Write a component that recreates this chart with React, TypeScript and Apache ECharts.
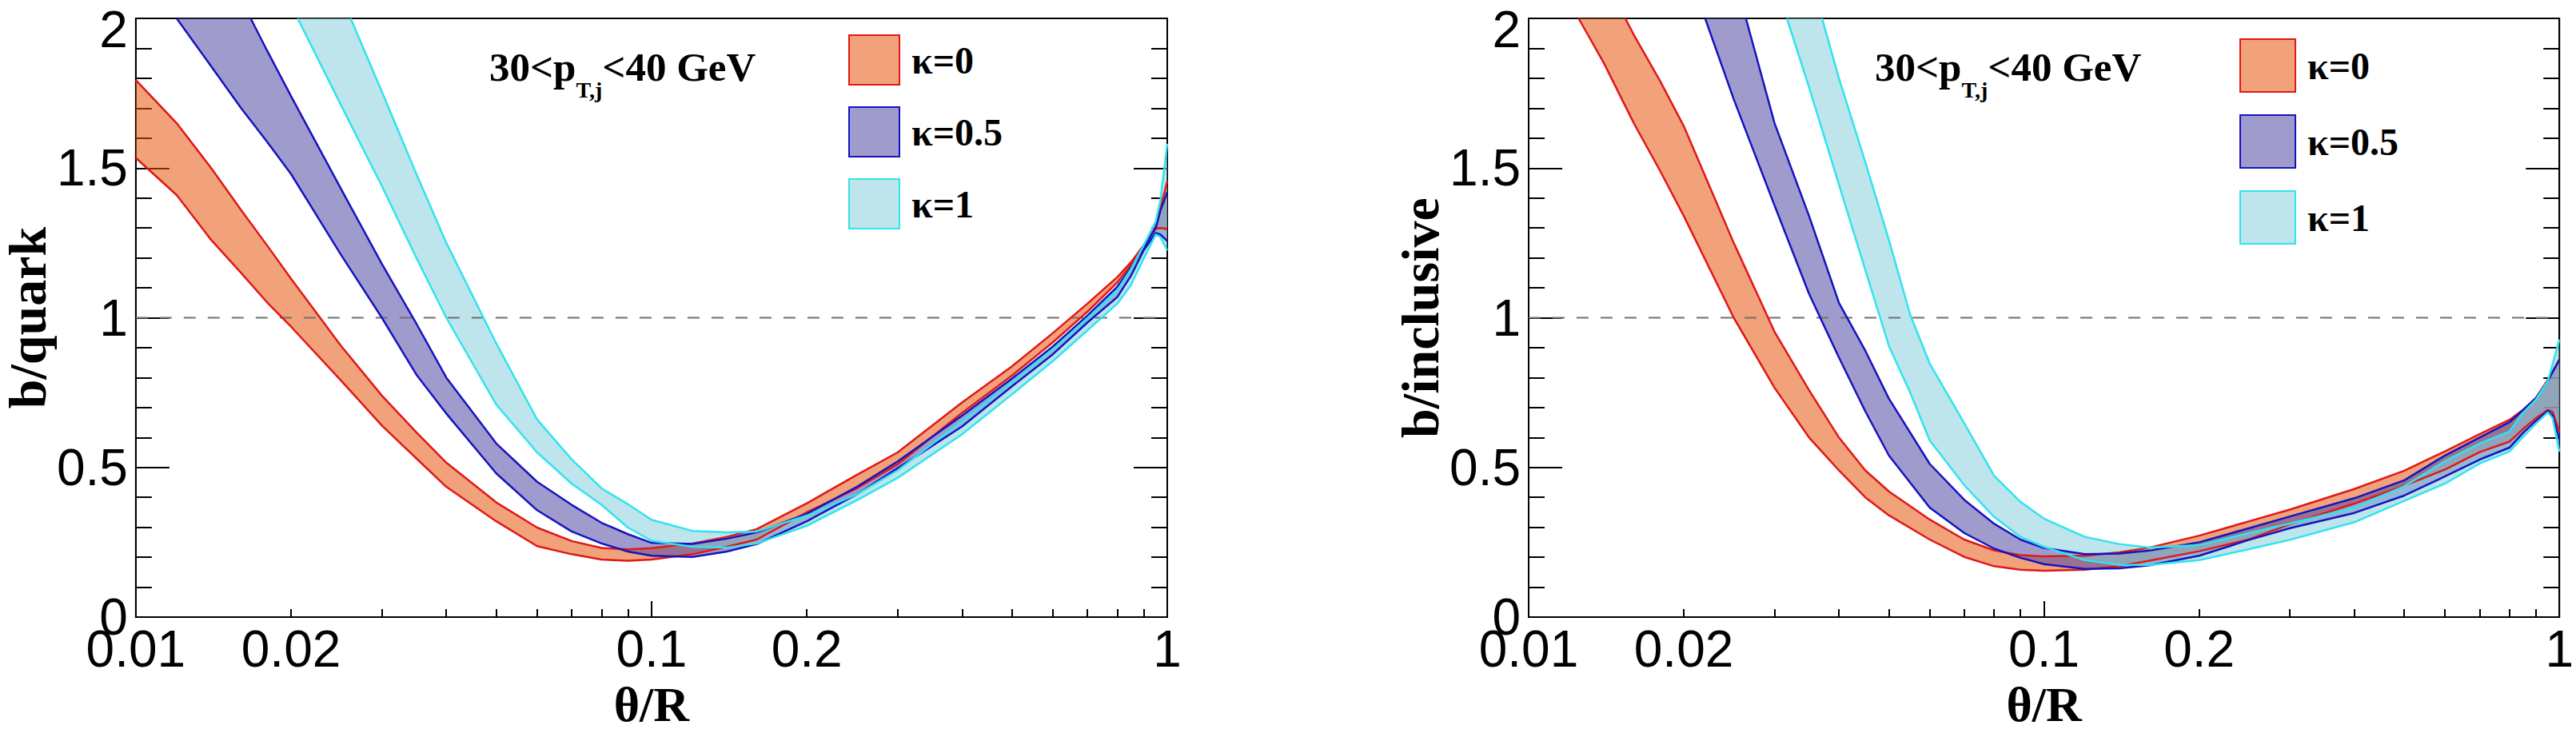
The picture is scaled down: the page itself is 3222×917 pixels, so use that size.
import React, { useEffect, useRef } from "react";
import * as echarts from "echarts";

// [theta/R, ratio], lower and upper edge of each band

// left panel: b/quark
const quarkK0Lo = [
  [0.01, 1.534], [0.012, 1.41], [0.014, 1.26], [0.016, 1.15], [0.018, 1.05], [0.02, 0.97],
  [0.025, 0.79], [0.03, 0.64], [0.035, 0.53], [0.04, 0.435], [0.05, 0.32], [0.06, 0.237],
  [0.07, 0.21], [0.08, 0.192], [0.09, 0.188], [0.1, 0.192], [0.12, 0.21], [0.14, 0.235],
  [0.16, 0.259], [0.2, 0.35], [0.25, 0.43], [0.3, 0.51], [0.4, 0.682], [0.5, 0.807],
  [0.6, 0.918], [0.7, 1.02], [0.8, 1.118], [0.85, 1.176], [0.9, 1.238], [0.95, 1.298],
  [0.97, 1.3], [1.0, 1.296],
];
const quarkK0Hi = [
  [0.01, 1.794], [0.012, 1.65], [0.014, 1.5], [0.016, 1.36], [0.018, 1.24], [0.02, 1.13],
  [0.025, 0.906], [0.03, 0.74], [0.035, 0.617], [0.04, 0.516], [0.05, 0.383], [0.06, 0.299],
  [0.07, 0.254], [0.08, 0.231], [0.09, 0.226], [0.1, 0.23], [0.12, 0.246], [0.14, 0.268],
  [0.16, 0.294], [0.2, 0.38], [0.25, 0.475], [0.3, 0.55], [0.4, 0.717], [0.5, 0.838],
  [0.6, 0.949], [0.7, 1.047], [0.8, 1.136], [0.85, 1.185], [0.9, 1.242], [0.95, 1.305],
  [0.97, 1.367], [1.0, 1.456],
];
const quarkK05Lo = [
  [0.012, 2.0], [0.014, 1.84], [0.016, 1.7], [0.018, 1.586], [0.02, 1.48], [0.025, 1.21],
  [0.03, 1.0], [0.035, 0.81], [0.04, 0.68], [0.05, 0.48], [0.06, 0.357], [0.07, 0.286],
  [0.08, 0.246], [0.09, 0.219], [0.1, 0.205], [0.12, 0.201], [0.14, 0.219], [0.16, 0.244],
  [0.2, 0.32], [0.25, 0.41], [0.3, 0.497], [0.4, 0.637], [0.5, 0.771], [0.6, 0.878],
  [0.7, 0.984], [0.8, 1.069], [0.85, 1.14], [0.9, 1.225], [0.95, 1.283], [0.97, 1.278],
  [1.0, 1.256],
];
const quarkK05Hi = [
  [0.0167, 2.0], [0.018, 1.89], [0.02, 1.74], [0.025, 1.43], [0.03, 1.18], [0.035, 0.98],
  [0.04, 0.8], [0.05, 0.58], [0.06, 0.452], [0.07, 0.375], [0.08, 0.315], [0.09, 0.277],
  [0.1, 0.248], [0.12, 0.244], [0.14, 0.262], [0.16, 0.283], [0.2, 0.345], [0.25, 0.435],
  [0.3, 0.52], [0.4, 0.673], [0.5, 0.797], [0.6, 0.904], [0.7, 1.007], [0.8, 1.104],
  [0.85, 1.167], [0.9, 1.234], [0.95, 1.3], [0.97, 1.358], [1.0, 1.42],
];
const quarkK1Lo = [
  [0.0206, 2.0], [0.025, 1.71], [0.03, 1.44], [0.035, 1.2], [0.04, 1.0], [0.05, 0.71],
  [0.06, 0.55], [0.07, 0.446], [0.08, 0.375], [0.09, 0.299], [0.1, 0.255], [0.12, 0.235],
  [0.14, 0.232], [0.16, 0.246], [0.2, 0.305], [0.25, 0.39], [0.3, 0.465], [0.4, 0.611],
  [0.5, 0.744], [0.6, 0.855], [0.7, 0.958], [0.8, 1.047], [0.85, 1.109], [0.9, 1.198],
  [0.95, 1.278], [0.97, 1.269], [1.0, 1.225],
];
const quarkK1Hi = [
  [0.0261, 2.0], [0.03, 1.755], [0.035, 1.48], [0.04, 1.25], [0.05, 0.914], [0.06, 0.66],
  [0.07, 0.527], [0.08, 0.43], [0.09, 0.377], [0.1, 0.325], [0.12, 0.288], [0.14, 0.283],
  [0.16, 0.286], [0.2, 0.339], [0.25, 0.41], [0.3, 0.49], [0.4, 0.655], [0.5, 0.784],
  [0.6, 0.895], [0.7, 0.998], [0.8, 1.091], [0.85, 1.162], [0.9, 1.242], [0.95, 1.322],
  [0.97, 1.394], [1.0, 1.581],
];

// right panel: b/inclusive
const inclK0Lo = [
  [0.0125, 2.0], [0.014, 1.85], [0.016, 1.65], [0.018, 1.49], [0.02, 1.34], [0.025, 1.0],
  [0.03, 0.766], [0.035, 0.6], [0.04, 0.49], [0.045, 0.4], [0.05, 0.34], [0.06, 0.259],
  [0.07, 0.201], [0.08, 0.17], [0.09, 0.158], [0.1, 0.155], [0.12, 0.158], [0.14, 0.17],
  [0.16, 0.188], [0.2, 0.22], [0.25, 0.26], [0.3, 0.31], [0.4, 0.379], [0.5, 0.439],
  [0.6, 0.493], [0.7, 0.551], [0.8, 0.586], [0.85, 0.628], [0.9, 0.664], [0.95, 0.692],
  [0.97, 0.686], [1.0, 0.619],
];
const inclK0Hi = [
  [0.0154, 2.0], [0.016, 1.945], [0.018, 1.79], [0.02, 1.64], [0.025, 1.25], [0.03, 0.953],
  [0.035, 0.758], [0.04, 0.6], [0.045, 0.49], [0.05, 0.42], [0.06, 0.326], [0.07, 0.259],
  [0.08, 0.223], [0.09, 0.207], [0.1, 0.203], [0.12, 0.205], [0.14, 0.216], [0.16, 0.232],
  [0.2, 0.272], [0.25, 0.32], [0.3, 0.359], [0.4, 0.428], [0.5, 0.489], [0.6, 0.554],
  [0.7, 0.611], [0.8, 0.659], [0.85, 0.692], [0.9, 0.731], [0.95, 0.793], [1.0, 0.86],
];
const inclK05Lo = [
  [0.022, 2.0], [0.025, 1.73], [0.03, 1.375], [0.035, 1.08], [0.04, 0.867], [0.045, 0.6875],
  [0.05, 0.54], [0.06, 0.366], [0.07, 0.281], [0.08, 0.229], [0.09, 0.198], [0.1, 0.177],
  [0.12, 0.161], [0.14, 0.163], [0.16, 0.173], [0.2, 0.205], [0.25, 0.258], [0.3, 0.297],
  [0.4, 0.348], [0.5, 0.406], [0.6, 0.47], [0.7, 0.526], [0.8, 0.566], [0.85, 0.615],
  [0.9, 0.655], [0.95, 0.689], [0.97, 0.673], [1.0, 0.593],
];
const inclK05Hi = [
  [0.0264, 2.0], [0.03, 1.65], [0.035, 1.34], [0.04, 1.05], [0.045, 0.89], [0.05, 0.73],
  [0.06, 0.512], [0.07, 0.392], [0.08, 0.312], [0.09, 0.259], [0.1, 0.231], [0.12, 0.21],
  [0.14, 0.212], [0.16, 0.222], [0.2, 0.25], [0.25, 0.297], [0.3, 0.336], [0.4, 0.397],
  [0.5, 0.457], [0.6, 0.54], [0.7, 0.6], [0.8, 0.651], [0.85, 0.692], [0.9, 0.731],
  [0.95, 0.789], [1.0, 0.86],
];
const inclK1Lo = [
  [0.0317, 2.0], [0.035, 1.77], [0.04, 1.445], [0.045, 1.16], [0.05, 0.906], [0.055, 0.75],
  [0.06, 0.59], [0.07, 0.441], [0.08, 0.335], [0.09, 0.268], [0.1, 0.235], [0.12, 0.19],
  [0.14, 0.174], [0.16, 0.174], [0.2, 0.19], [0.25, 0.227], [0.3, 0.258], [0.4, 0.317],
  [0.5, 0.388], [0.6, 0.446], [0.7, 0.513], [0.8, 0.553], [0.85, 0.602], [0.9, 0.646],
  [0.95, 0.684], [0.97, 0.664], [1.0, 0.553],
];
const inclK1Hi = [
  [0.0371, 2.0], [0.04, 1.8], [0.045, 1.52], [0.05, 1.26], [0.055, 1.01], [0.06, 0.847],
  [0.07, 0.648], [0.08, 0.472], [0.09, 0.385], [0.1, 0.329], [0.12, 0.268], [0.14, 0.244],
  [0.16, 0.232], [0.2, 0.24], [0.25, 0.281], [0.3, 0.3125], [0.4, 0.366], [0.5, 0.437],
  [0.6, 0.521], [0.7, 0.58], [0.8, 0.62], [0.85, 0.682], [0.9, 0.726], [0.95, 0.789],
  [1.0, 0.927],
];

const kappaNames = ["κ=0", "κ=0.5", "κ=1"];
const lineColors = ["#e01818", "#1414c0", "#30e4ee"];
const fillColors = ["rgba(231,86,13,0.55)", "rgba(82,73,164,0.55)", "rgba(137,206,221,0.55)"];

const xMinorTicks = [0.02, 0.03, 0.04, 0.05, 0.06, 0.07, 0.08, 0.09, 0.2, 0.3, 0.4, 0.5, 0.6, 0.7, 0.8, 0.9];
const xExtraLabels = [0.02, 0.2];
const unityLine = [[0.01, 1], [1, 1]];

const panels = [
  {
    title: "b/quark",
    bands: [[quarkK0Lo, quarkK0Hi], [quarkK05Lo, quarkK05Hi], [quarkK1Lo, quarkK1Hi]],
    left: 162,
    legend: { left: 1061, top: 43, w: 63, h: 62, gap: 26 },
    note: { x: 612, y: 58 },
  },
  {
    title: "b/inclusive",
    bands: [[inclK0Lo, inclK0Hi], [inclK05Lo, inclK05Hi], [inclK1Lo, inclK1Hi]],
    left: 1912,
    legend: { left: 2801, top: 48, w: 69, h: 66, gap: 27 },
    note: { x: 2345, y: 58 },
  },
];

const PLOT_W = 1298;
const PLOT_H = 749;
const SANS = "Liberation Sans";
const SERIF = "Liberation Serif";
const black = { color: "#000", width: 2 };
const labelFont = { fontSize: 64, fontFamily: SANS, color: "#000" };

const App: React.FC = () => {
  const chartRef = useRef<HTMLDivElement>(null);

  useEffect(() => {
    if (!chartRef.current) return;
    const chart = echarts.init(chartRef.current, undefined, { renderer: "svg" });

    const grid: any[] = [];
    const xAxis: any[] = [];
    const yAxis: any[] = [];
    const series: any[] = [];

    panels.forEach((p, i) => {
      grid.push({
        left: p.left, top: 23, width: PLOT_W, height: PLOT_H,
        show: true, borderColor: "#000", borderWidth: 2,
      });

      // data axis (log), long ticks at the decades
      xAxis.push({
        gridIndex: i, type: "log", logBase: 10, min: 0.01, max: 1, position: "bottom",
        name: "θ/R", nameLocation: "middle", nameGap: 78,
        nameTextStyle: { fontSize: 62, fontWeight: "bold", fontFamily: SERIF, color: "#000" },
        axisLine: { show: true, onZero: false, lineStyle: black },
        axisTick: { show: true, inside: true, length: 20, lineStyle: black },
        axisLabel: {
          ...labelFont, margin: 8,
          formatter: (v: number) => String(Number(v.toPrecision(3))),
        },
        splitLine: { show: false },
      });
      // short ticks and the 0.02 / 0.2 labels
      xAxis.push({
        gridIndex: i, type: "value", min: -2, max: 0, position: "bottom",
        axisLine: { show: false, onZero: false },
        axisTick: { show: true, inside: true, length: 10, lineStyle: black, customValues: xMinorTicks.map(Math.log10) },
        axisLabel: {
          ...labelFont, margin: 8,
          customValues: xExtraLabels.map(Math.log10),
          formatter: (v: number) => String(Number(Math.pow(10, v).toPrecision(2))),
        },
        splitLine: { show: false },
      });

      [true, false].forEach((isLeft) => {
        yAxis.push({
          gridIndex: i, type: "value", min: 0, max: 2, interval: 0.5,
          position: isLeft ? "left" : "right",
          name: isLeft ? p.title : "", nameLocation: "middle", nameGap: 90,
          nameTextStyle: { fontSize: 66, fontWeight: "bold", fontFamily: SERIF, color: "#000" },
          axisLine: { show: true, onZero: false, lineStyle: black },
          axisTick: { show: true, inside: true, length: 42, lineStyle: black },
          minorTick: { show: true, splitNumber: 5, length: 20, lineStyle: black },
          axisLabel: {
            ...labelFont, show: isLeft, margin: 10,
            // nudge the top label down so it stays inside the page
            formatter: (v: number) => (v === 2 ? "{top|2}" : String(v)),
            rich: { top: { ...labelFont, padding: [28, 0, 0, 0] } },
          },
          splitLine: { show: false },
        });
      });

      const xi = i * 2;
      const yi = i * 2;

      series.push({
        type: "line", name: "unity", xAxisIndex: xi, yAxisIndex: yi,
        data: unityLine, showSymbol: false, silent: true,
        lineStyle: { color: "#707070", width: 2, type: [15, 15] },
      });

      p.bands.forEach(([lo, hi], k) => {
        series.push({
          type: "custom", name: kappaNames[k], xAxisIndex: xi, yAxisIndex: yi,
          data: [[0.1, 1]], clip: true, silent: true,
          renderItem: (_params: any, api: any) => {
            const pts = lo.map((d) => api.coord(d)).concat(hi.slice().reverse().map((d) => api.coord(d)));
            return { type: "polygon", shape: { points: pts }, style: { fill: fillColors[k], stroke: "none" } };
          },
        });
        [lo, hi].forEach((edge, e) => {
          series.push({
            type: "line", name: kappaNames[k] + (e ? " up" : " down"),
            xAxisIndex: xi, yAxisIndex: yi, data: edge,
            showSymbol: false, silent: true,
            lineStyle: { color: lineColors[k], width: 2.5 },
          });
        });
      });
    });

    const option = {
      animation: false,
      grid,
      xAxis,
      yAxis,
      series,
      legend: panels.map((p) => ({
        orient: "vertical", left: p.legend.left, top: p.legend.top, padding: 0,
        itemWidth: p.legend.w, itemHeight: p.legend.h, itemGap: p.legend.gap,
        selectedMode: false,
        textStyle: { fontSize: 48, fontWeight: "bold", fontFamily: SERIF, color: "#000", padding: [0, 0, 0, 10] },
        data: kappaNames.map((name, k) => ({
          name, icon: "rect",
          itemStyle: { color: fillColors[k], borderColor: lineColors[k], borderWidth: 2 },
        })),
      })),
      graphic: panels.map((p) => ({
        type: "text", x: p.note.x, y: p.note.y, silent: true,
        style: {
          text: "{m|30<p}{s|T,j}{m|<40 GeV}",
          verticalAlign: "top", align: "left",
          rich: {
            m: { fontSize: 51, fontWeight: "bold", fontFamily: SERIF, fill: "#000", lineHeight: 50, verticalAlign: "top" },
            s: { fontSize: 28, fontWeight: "bold", fontFamily: SERIF, fill: "#000", lineHeight: 28, verticalAlign: "top", padding: [40, 0, 0, 0] },
          },
        },
      })),
    };

    chart.setOption(option);

    return () => {
      chart.dispose();
    };
  }, []);

  return (
    <div
      ref={chartRef}
      style={{ position: "fixed", left: 0, top: 0, width: "3222px", height: "917px", background: "#fff" }}
    />
  );
};

export default App;
